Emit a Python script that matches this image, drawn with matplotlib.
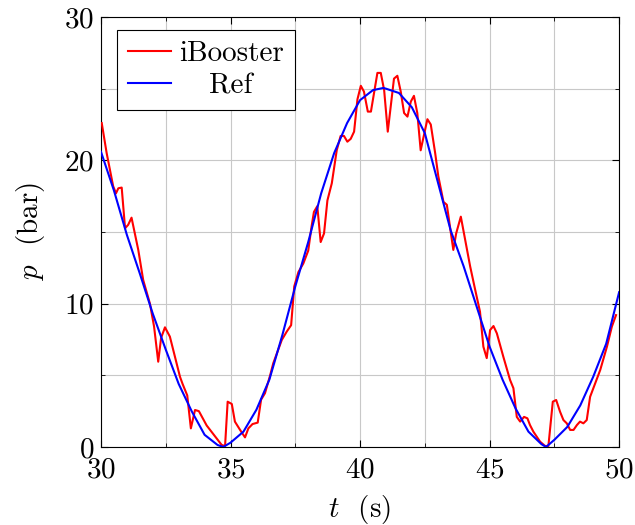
import matplotlib
matplotlib.use('Agg')
import matplotlib.pyplot as plt
from matplotlib.ticker import MultipleLocator
from matplotlib.transforms import Affine2D

t_ibooster = [30.03, 30.22, 30.47, 30.58, 30.67, 30.80, 30.93, 31.05, 31.18, 31.44,
              31.63, 31.89, 32.05, 32.21, 32.32, 32.47, 32.66, 33.05, 33.15, 33.33,
              33.47, 33.63, 33.78, 34.08, 34.66, 34.79, 34.89, 35.05, 35.17, 35.37,
              35.56, 35.69, 35.85, 36.05, 36.18, 36.33, 36.53, 36.65, 36.98, 37.17,
              37.34, 37.46, 37.62, 37.81, 38.00, 38.13, 38.22, 38.35, 38.48, 38.61,
              38.74, 38.91, 39.10, 39.25, 39.38, 39.51, 39.64, 39.77, 39.90, 40.03,
              40.15, 40.30, 40.42, 40.67, 40.80, 40.93, 41.07, 41.31, 41.44, 41.57,
              41.70, 41.83, 41.96, 42.08, 42.21, 42.34, 42.60, 42.73, 42.90, 43.02,
              43.22, 43.35, 43.60, 43.71, 43.89, 44.25, 44.44, 44.63, 44.76, 44.89,
              45.02, 45.15, 45.28, 45.53, 45.79, 45.92, 46.05, 46.18, 46.33, 46.46,
              46.56, 46.69, 46.95, 47.14, 47.27, 47.44, 47.57, 47.72, 47.85, 47.98,
              48.11, 48.24, 48.37, 48.49, 48.62, 48.75, 48.88, 49.27, 49.53, 49.72,
              49.88]
p_ibooster = [22.6, 20.5, 18.2, 17.7, 18.05, 18.1, 15.26, 15.5, 16.0, 13.75,
              11.65, 10.0, 8.4, 5.95, 7.6, 8.35, 7.7, 4.9, 4.4, 3.6,
              1.3, 2.58, 2.5, 1.5, 0.14, 0.07, 3.16, 3.0, 1.77, 1.19,
              0.67, 1.3, 1.6, 1.7, 3.3, 3.75, 5.0, 5.84, 7.47, 8.05,
              8.5, 11.2, 12.2, 12.8, 13.7, 15.4, 16.4, 16.8, 14.3, 14.9,
              17.2, 18.4, 20.7, 21.7, 21.7, 21.3, 21.5, 22.0, 24.26, 25.2,
              24.8, 23.4, 23.4, 26.1, 26.1, 24.9, 22.0, 25.7, 25.9, 24.8,
              23.3, 23.05, 24.1, 24.5, 23.3, 20.7, 22.87, 22.5, 20.5, 18.9,
              17.1, 16.9, 13.75, 14.9, 16.07, 12.6, 11.0, 9.44, 7.0, 6.2,
              8.16, 8.44, 7.93, 6.3, 4.68, 4.1, 2.1, 1.77, 2.1, 2.0,
              1.53, 1.07, 0.37, 0.07, 0.07, 3.16, 3.28, 2.46, 1.88, 1.65,
              1.19, 1.19, 1.53, 1.77, 1.65, 1.88, 3.5, 5.37, 7.0, 8.4,
              9.2]

# reference pressure
t_ref = [30.0, 30.5, 31.0, 31.5, 32.0, 32.5, 33.0, 33.5, 34.0, 34.5, 34.72,
         35.0, 35.5, 36.0, 36.5, 37.0, 37.5, 38.0, 38.5, 39.0, 39.5, 40.0,
         40.5, 40.9, 41.0, 41.5, 42.0, 42.5, 43.0, 43.5, 44.0, 44.5, 45.0,
         45.5, 46.0, 46.5, 47.0, 47.18, 47.5, 48.0, 48.5, 49.0, 49.5, 50.0]
p_ref = [20.6, 17.9, 14.8, 12.1, 9.3, 6.8, 4.4, 2.5, 0.85, 0.14, 0.0,
         0.3, 1.07, 2.6, 4.7, 7.8, 11.2, 14.3, 17.7, 20.5, 22.6, 24.2,
         24.9, 25.05, 25.0, 24.7, 23.7, 21.9, 18.5, 15.1, 12.6, 9.8, 7.0,
         4.7, 2.7, 1.07, 0.2, 0.0, 0.5, 1.4, 2.9, 4.9, 7.2, 10.8]

FS = 21

plt.rcParams['font.family'] = 'serif'
plt.rcParams['font.serif'] = ['cmr10']
plt.rcParams['mathtext.fontset'] = 'cm'
plt.rcParams['axes.unicode_minus'] = False
plt.rcParams['axes.formatter.use_mathtext'] = True

fig = plt.figure(figsize=(6.35, 5.25), dpi=100)
ax = fig.add_axes([0.159, 0.1486, 0.816, 0.819])

ax.plot(t_ibooster, p_ibooster, color='red', lw=1.5, label='iBooster', zorder=3)
ax.plot(t_ref, p_ref, color='blue', lw=1.5, label='Ref', zorder=3)

ax.set_xlim(30, 50)
ax.set_ylim(0, 30)
ax.xaxis.set_major_locator(MultipleLocator(5))
ax.xaxis.set_minor_locator(MultipleLocator(2.5))
ax.yaxis.set_major_locator(MultipleLocator(10))
ax.yaxis.set_minor_locator(MultipleLocator(5))
ax.grid(which='both', color='#c8c8c8', lw=0.8)
ax.set_axisbelow(True)
ax.tick_params(which='both', direction='in', top=True, right=True, labelsize=FS, pad=5)
ax.tick_params(axis='x', which='both', pad=7)
ax.tick_params(which='major', length=5)
ax.tick_params(which='minor', length=3)
for s in ax.spines.values():
    s.set_linewidth(0.8)

ax.set_xlabel(r'$t$  (s)', fontsize=FS, labelpad=7)
ax.set_ylabel(r'$p$  (bar)', fontsize=FS, labelpad=12)

leg = ax.legend(loc='upper left', bbox_to_anchor=(0.03, 0.97), fontsize=FS,
                fancybox=False, framealpha=1, edgecolor='black',
                handlelength=1.5, borderpad=0.38, labelspacing=0.18,
                handletextpad=0.25, borderaxespad=0)
leg.get_frame().set_linewidth(0.8)

# centre the legend entries like pgfplots does
fig.canvas.draw()
r = fig.canvas.get_renderer()
widths = [t.get_window_extent(r).width for t in leg.get_texts()]
wmax = max(widths)
for t, w in zip(leg.get_texts(), widths):
    t.set_transform(t.get_transform() + Affine2D().translate((wmax - w) / 2, 0))

fig.savefig('out.png', dpi=100)
